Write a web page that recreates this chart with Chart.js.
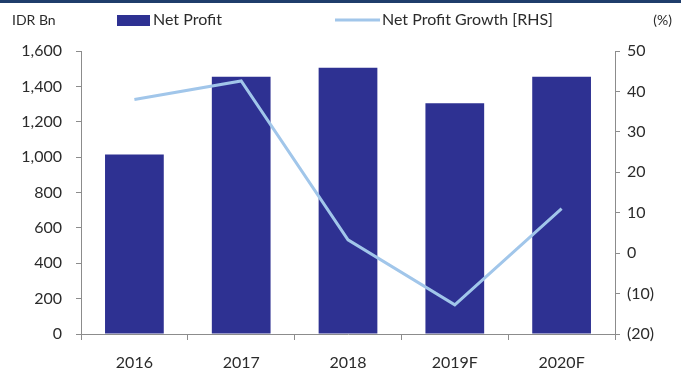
<!DOCTYPE html>
<html>
<head>
<meta charset="utf-8">
<script src="https://cdn.jsdelivr.net/npm/chart.js@4/dist/chart.umd.min.js"></script>
<style>
    html, body { margin: 0; padding: 0; background: #fff; }
    #wrap { width: 681px; height: 369px; position: relative; }
</style>
</head>
<body>
<div id="wrap"><canvas id="profitChart" width="681" height="369"></canvas></div>
<script>
const years = ['2016', '2017', '2018', '2019F', '2020F'];
const netProfit = [1015, 1455, 1505, 1305, 1455];
const profitGrowth = [38, 42.6, 3.3, -12.8, 11];

const BAR_COLOR = '#2e3192';
const LINE_COLOR = '#a1c6ea';
const AXIS_COLOR = '#8c8c8c';
const TEXT_COLOR = '#2b2b2b';
const FONT = 'Lato, "Open Sans", sans-serif';

// header strip, axis units and the legend row above the plot
const headerPlugin = {
    id: 'header',
    afterDraw(chart) {
        const ctx = chart.ctx;
        ctx.save();
        ctx.fillStyle = '#1f3d6b';
        ctx.fillRect(0, 0, chart.width, 3);

        ctx.font = '14px ' + FONT;
        ctx.fillStyle = TEXT_COLOR;
        ctx.textBaseline = 'middle';
        ctx.textAlign = 'left';
        ctx.fillText('IDR Bn', 12, 20);
        ctx.textAlign = 'right';
        ctx.fillText('(%)', 672, 20);

        ctx.font = '16px ' + FONT;
        ctx.textAlign = 'left';
        ctx.fillStyle = BAR_COLOR;
        ctx.fillRect(117, 15, 33, 11);
        ctx.fillStyle = TEXT_COLOR;
        ctx.fillText('Net Profit', 153, 20);

        ctx.strokeStyle = LINE_COLOR;
        ctx.lineWidth = 3;
        ctx.beginPath();
        ctx.moveTo(335, 20);
        ctx.lineTo(380, 20);
        ctx.stroke();
        ctx.fillText('Net Profit Growth [RHS]', 382, 20);
        ctx.restore();
    }
};

function pctLabel(v) {
    return v < 0 ? '(' + Math.abs(v) + ')' : String(v);
}

new Chart(document.getElementById('profitChart'), {
    data: {
        labels: years,
        datasets: [
            {
                type: 'line',
                label: 'Net Profit Growth [RHS]',
                data: profitGrowth,
                yAxisID: 'yPct',
                borderColor: LINE_COLOR,
                borderWidth: 3,
                pointRadius: 0,
                tension: 0,
                fill: false,
                order: 0,
            },
            {
                type: 'bar',
                label: 'Net Profit',
                data: netProfit,
                yAxisID: 'yIdr',
                backgroundColor: BAR_COLOR,
                categoryPercentage: 1,
                barPercentage: 0.55,
                order: 1,
            },
        ],
    },
    options: {
        responsive: false,
        animation: false,
        layout: { padding: { top: 51, left: 0, right: 0, bottom: 0 } },
        plugins: {
            legend: { display: false },
            tooltip: { enabled: false },
        },
        scales: {
            x: {
                offset: true,
                grid: {
                    offset: true,
                    drawOnChartArea: false,
                    drawTicks: true,
                    tickLength: 6,
                    color: AXIS_COLOR,
                },
                border: { color: AXIS_COLOR, width: 1 },
                ticks: {
                    color: TEXT_COLOR,
                    font: { family: FONT, size: 16 },
                    padding: 13,
                },
                afterFit(scale) { scale.height = 35; },
            },
            yIdr: {
                position: 'left',
                min: 0,
                max: 1600,
                ticks: {
                    stepSize: 200,
                    color: TEXT_COLOR,
                    font: { family: FONT, size: 16 },
                    padding: 14,
                    callback: (v) => v.toLocaleString('en-US'),
                },
                grid: {
                    drawOnChartArea: false,
                    tickLength: 5,
                    color: AXIS_COLOR,
                },
                border: { color: AXIS_COLOR, width: 1 },
                afterFit(scale) { scale.width = 81; },
            },
            yPct: {
                position: 'right',
                min: -20,
                max: 50,
                ticks: {
                    stepSize: 10,
                    color: TEXT_COLOR,
                    font: { family: FONT, size: 16 },
                    padding: 7,
                    callback: pctLabel,
                },
                grid: {
                    drawOnChartArea: false,
                    tickLength: 5,
                    color: AXIS_COLOR,
                },
                border: { color: AXIS_COLOR, width: 1 },
                afterFit(scale) { scale.width = 66; },
            },
        },
    },
    plugins: [headerPlugin],
});
</script>
</body>
</html>
